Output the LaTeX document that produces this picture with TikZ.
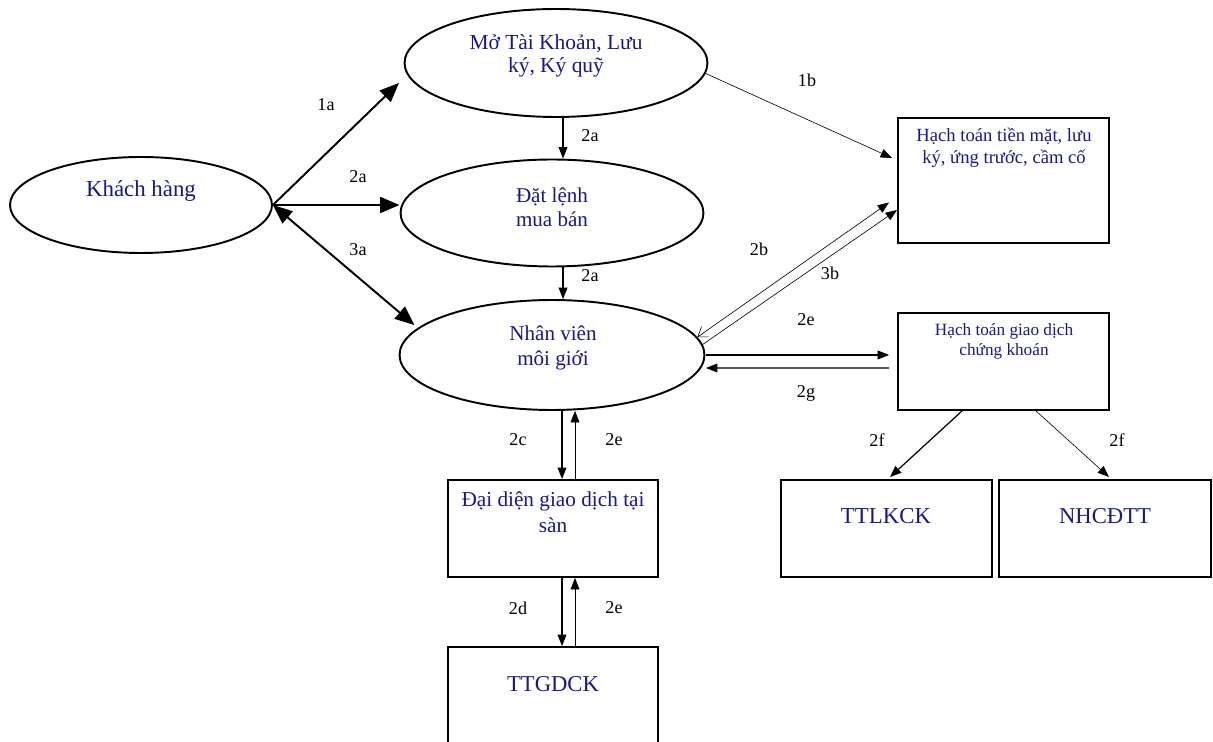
\documentclass[tikz,border=0pt]{standalone}
\usepackage{fontspec}
\setmainfont{Liberation Serif}
\usetikzlibrary{shapes.geometric,arrows.meta}
\definecolor{navy}{RGB}{24,24,140}
\begin{document}
\begin{tikzpicture}[x=0.02cm, y=-0.02cm,
        oval/.style = {draw, ellipse, line width=1.1pt, fill=white, inner sep=0pt},
        box/.style = {draw, rectangle, line width=1.1pt, inner sep=0pt},
        txt/.style = {text=navy, align=center, inner sep=0pt},
        lbl/.style = {inner sep=0pt, font=\fontsize{10.3}{12}\selectfont},
        big/.style = {-{Triangle[length=11pt,width=9pt]}, line width=1.1pt},
        bigboth/.style = {{Triangle[length=11pt,width=9pt]}-{Triangle[length=11pt,width=9pt]}, line width=1.1pt},
        mid/.style = {-{Triangle[length=6.5pt,width=5pt]}, line width=0.7pt},
        thin/.style = {-{Triangle[length=6.5pt,width=5pt]}, line width=0.35pt}]

        \useasboundingbox (0,0) rectangle (1213,742);

        % shapes
        \node[oval, minimum width=5.24cm, minimum height=1.92cm] (kh) at (141,205) {};
        \node[oval, minimum width=6.06cm, minimum height=2.16cm] (mo) at (556,63) {};
        \node[oval, minimum width=6.06cm, minimum height=2.14cm] (dl) at (552,213) {};
        \node[oval, minimum width=6.1cm, minimum height=2.2cm] (nv) at (552,355) {};
        \node[box, minimum width=4.22cm, minimum height=2.5cm] (ht1) at (1003.5,180.5) {};
        \node[box, minimum width=4.22cm, minimum height=1.94cm] (ht2) at (1003.5,361.5) {};
        \node[box, minimum width=4.2cm, minimum height=1.94cm] (dd) at (553,528.5) {};
        \node[box, minimum width=4.2cm, minimum height=2.4cm] (tt) at (553,707) {};
        \node[box, minimum width=4.22cm, minimum height=1.94cm] (lk) at (886.5,528.5) {};
        \node[box, minimum width=4.24cm, minimum height=1.94cm] (nh) at (1105,528.5) {};

        % texts
        \node[txt, font=\fontsize{13}{15}\selectfont] (kh-t) at (141,191) {Khách hàng};
        \node[txt, font=\fontsize{12.2}{13.3}\selectfont] (mo-t) at (556,56) {Mở Tài Khoản, Lưu\\ký, Ký quỹ};
        \node[txt, font=\fontsize{12}{13.7}\selectfont] (dl-t) at (552,207) {Đặt lệnh\\mua bán};
        \node[txt, font=\fontsize{12}{14.5}\selectfont] (nv-t) at (553,348) {Nhân viên\\môi giới};
        \node[txt, font=\fontsize{10.6}{12.4}\selectfont] (ht1-t) at (1004,148) {Hạch toán tiền mặt, lưu\\ký, ứng trước, cầm cố};
        \node[txt, font=\fontsize{9.8}{11.4}\selectfont] (ht2-t) at (1004,341) {Hạch toán giao dịch\\chứng khoán};
        \node[txt, font=\fontsize{12.1}{14.6}\selectfont] (dd-t) at (553,512) {Đại diện giao dịch tại\\sàn};
        \node[txt, font=\fontsize{12.9}{16}\selectfont] (tt-t) at (553,684) {TTGDCK};
        \node[txt, font=\fontsize{13}{16}\selectfont] (lk-t) at (886,516) {TTLKCK};
        \node[txt, font=\fontsize{12.9}{16}\selectfont] (nh-t) at (1105,516) {NHCĐTT};

        % arrows
        \draw[big] (kh.east) -- ([shift={(-15,0)}]mo.188);
        \draw[big] (kh.east) -- (kh.east -| dl.west);
        \draw[bigboth] (kh.east) -- ([shift={(-8,0)}]nv.167);
        \draw[mid] ([shift={(7,0)}]mo.south) -- ([shift={(11,0)}]dl.north);
        \draw[mid] ([shift={(11,0)}]dl.south) -- ([shift={(11,0)}]nv.north);
        \draw[thin] (mo.356) -- ([shift={(-5,-22.5)}]ht1.west);
        \draw[thin, {Straight Barb[length=5pt,width=7pt]}-{Triangle[length=6.5pt,width=5pt]}] (nv.7) -- ([shift={(-8,22)}]ht1.west);
        \draw[thin] (nv.4) -- ([shift={(0,29.5)}]ht1.west);
        \draw[mid] ([shift={(154,0)}]nv.center) -- ([shift={(-8,-6.5)}]ht2.west);
        \draw[mid] ([shift={(-8,6.5)}]ht2.west) -- ([shift={(154,13)}]nv.center);
        \draw[mid] ([shift={(10,0)}]nv.south) -- ([shift={(9,0)}]dd.north);
        \draw[thin] ([shift={(22,0)}]dd.north) -- ([shift={(23,0)}]nv.south);
        \draw[mid] ([shift={(9,0)}]dd.south) -- ([shift={(9,0)}]tt.north);
        \draw[thin] ([shift={(22,0)}]tt.north) -- ([shift={(22,0)}]dd.south);
        \draw[mid] ([shift={(-41.5,0)}]ht2.south) -- ([shift={(3.5,-2)}]lk.north);
        \draw[thin] ([shift={(32.5,0)}]ht2.south) -- ([shift={(4,-2)}]nh.north);

        % labels
        \node[lbl] (l1a) at (326,105) {1a};
        \node[lbl] (l2a) at (358,177) {2a};
        \node[lbl] (l3a) at (358,250) {3a};
        \node[lbl] (l2a-1) at (590,136) {2a};
        \node[lbl] (l2a-2) at (590,276) {2a};
        \node[lbl] (l1b) at (807,80) {1b};
        \node[lbl] (l2b) at (759,249) {2b};
        \node[lbl] (l3b) at (830,273) {3b};
        \node[lbl] (l2e) at (806,320) {2e};
        \node[lbl] (l2g) at (806,393) {2g};
        \node[lbl] (l2c) at (518,440) {2c};
        \node[lbl] (l2e-1) at (614,440) {2e};
        \node[lbl] (l2d) at (518,608) {2d};
        \node[lbl] (l2e-2) at (614,608) {2e};
        \node[lbl] (l2f-1) at (877,440) {2f};
        \node[lbl] (l2f-2) at (1117,440) {2f};
\end{tikzpicture}
\end{document}
